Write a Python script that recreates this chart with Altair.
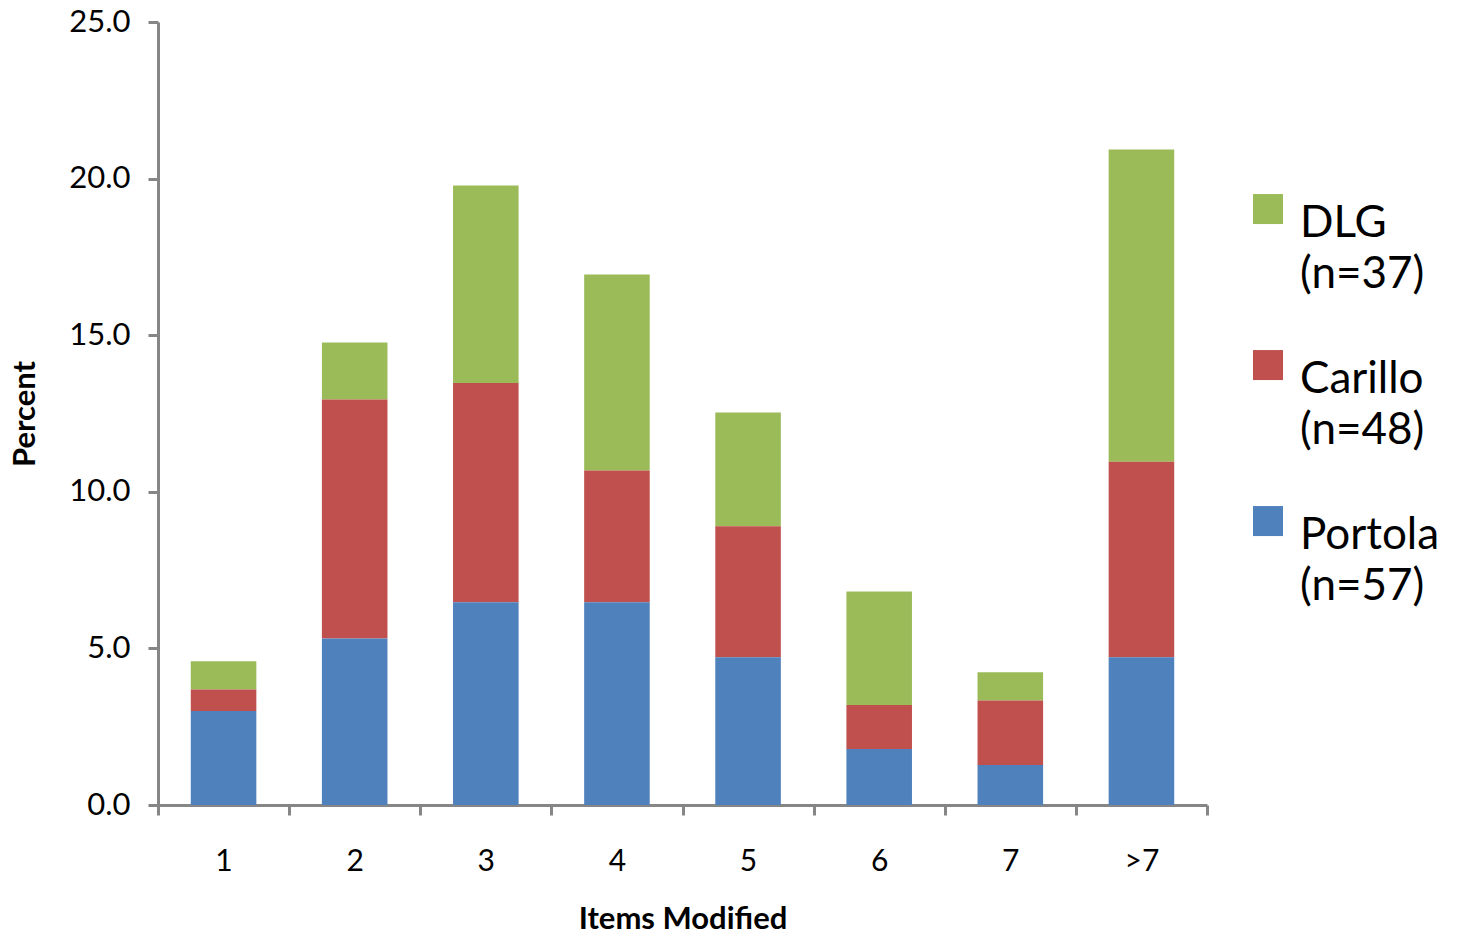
import altair as alt
import pandas as pd

# Number of items modified per response
categories = ["1", "2", "3", "4", "5", "6", "7", ">7"]

# Groups (legend order, top to bottom) and their sample sizes
groups = ["DLG", "Carillo", "Portola"]
group_n = [37, 48, 57]
group_colors = ["#9BBB59", "#C0504D", "#4F81BD"]

# Percent of respondents, per group and category
portola = [3.00, 5.32, 6.47, 6.47, 4.72, 1.79, 1.28, 4.72]
carillo = [0.69, 7.63, 7.00, 4.21, 4.18, 1.40, 2.06, 6.24]
dlg = [0.90, 1.82, 6.31, 6.26, 3.63, 3.63, 0.90, 9.97]

series_values = {"DLG": dlg, "Carillo": carillo, "Portola": portola}
# Portola sits at the bottom of each stack, DLG on top
stack_rank = {"Portola": 0, "Carillo": 1, "DLG": 2}

labels = [f"{g} (n={n})" for g, n in zip(groups, group_n)]
rows = []
for g, lab in zip(groups, labels):
    for cat, val in zip(categories, series_values[g]):
        rows.append({"items": cat, "percent": val, "group": lab, "rank": stack_rank[g]})
df = pd.DataFrame(rows)

axis_grey = "#868686"
font = "Lato"

# Square legend swatch, nudged a little below the label's first line
swatch = "M-1,-0.53H1V1.47H-1Z"

chart = (
    alt.Chart(df)
    .mark_bar(strokeWidth=0, width=alt.RelativeBandSize(0.5))
    .encode(
        x=alt.X(
            "items:N",
            sort=categories,
            scale=alt.Scale(paddingInner=0, paddingOuter=0),
            axis=alt.Axis(
                title="Items Modified",
                labelAngle=0,
                tickBand="extent",
                tickSize=10,
                tickWidth=3,
                tickColor=axis_grey,
                domainColor=axis_grey,
                domainWidth=3,
                labelFont=font,
                labelFontSize=30,
                labelColor="black",
                labelPadding=31,
                labelBaseline="top",
                titleFont=font,
                titleFontSize=31,
                titleFontWeight="bold",
                titleColor="black",
                titlePadding=28,
            ),
        ),
        y=alt.Y(
            "percent:Q",
            stack="zero",
            scale=alt.Scale(domain=[0, 25], nice=False),
            axis=alt.Axis(
                title="Percent",
                values=[0, 5, 10, 15, 20, 25],
                format=".1f",
                grid=False,
                tickSize=10,
                tickWidth=3,
                tickColor=axis_grey,
                domainColor=axis_grey,
                domainWidth=3,
                labelFont=font,
                labelFontSize=31,
                labelColor="black",
                labelPadding=18,
                titleFont=font,
                titleFontSize=31,
                titleFontWeight="bold",
                titleColor="black",
                titlePadding=27,
            ),
        ),
        color=alt.Color(
            "group:N",
            scale=alt.Scale(domain=labels, range=group_colors),
            legend=alt.Legend(
                title=None,
                orient="none",
                legendX=1088,
                legendY=158,
                symbolType=swatch,
                symbolSize=900,
                symbolStrokeWidth=0,
                labelFont=font,
                labelFontSize=44,
                labelColor="black",
                labelBaseline="top",
                labelOffset=10,
                labelLimit=400,
                labelExpr="split(datum.label, ' ')",
                rowPadding=39,
            ),
        ),
        order=alt.Order("rank:Q", sort="ascending"),
    )
    .properties(
        width=1049,
        height=783,
        autosize=alt.AutoSizeParams(type="none"),
        padding={"left": 158, "top": 22, "right": 250, "bottom": 133},
    )
    .configure(style={"guide-label": {"lineHeight": 51}})
    .configure_view(stroke=None)
)

chart.save("out.html", embed_options={"renderer": "svg", "actions": False})
